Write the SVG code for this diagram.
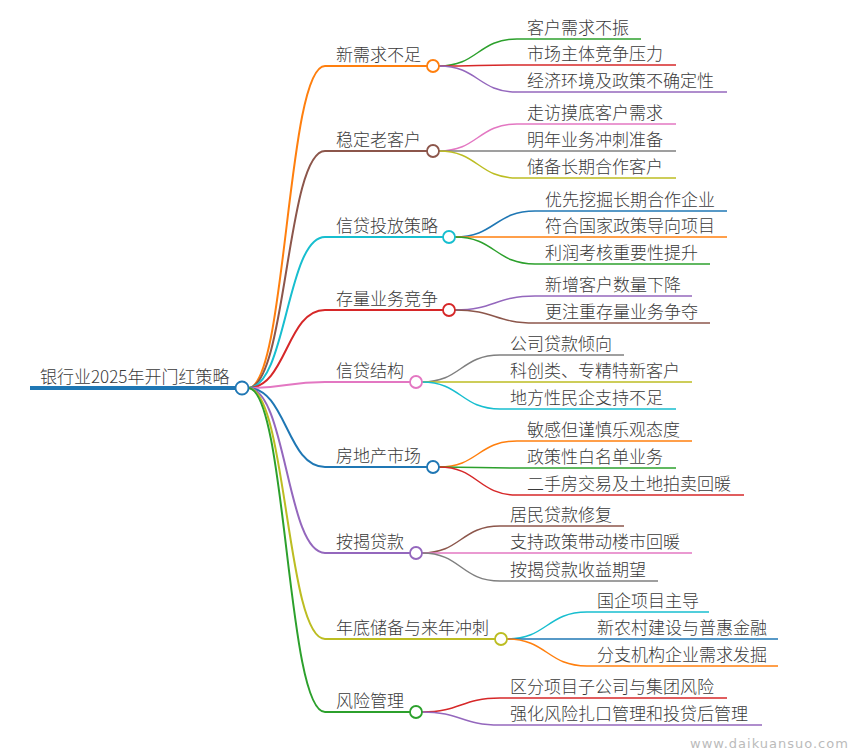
<svg xmlns="http://www.w3.org/2000/svg" width="849" height="751" viewBox="0 0 849 751">
<style>
text{font-family:"Noto Sans CJK SC","Noto Sans",sans-serif;font-size:17px;font-weight:300;fill:#3a3a3a}
.wm{font-family:"DejaVu Sans","Liberation Sans",sans-serif;font-size:13px;font-weight:normal;fill:#bbb;letter-spacing:1px}
path{fill:none}
.b{stroke-width:2}
.l{stroke-width:1.5}
circle{fill:#fff;stroke-width:1.8}
.c0{stroke:#1f77b4}.c1{stroke:#ff7f0e}.c2{stroke:#2ca02c}.c3{stroke:#d62728}.c4{stroke:#9467bd}
.c5{stroke:#8c564b}.c6{stroke:#e377c2}.c7{stroke:#7f7f7f}.c8{stroke:#bcbd22}.c9{stroke:#17becf}
</style>
<rect width="849" height="751" fill="#fff"/>
<g id="connectors">
<path class="b c1" d="M248,388 C286.5,388 286.5,66 325,66"/>
<path class="b c5" d="M248,388 C286.5,388 286.5,151 325,151"/>
<path class="b c9" d="M248,388 C286.5,388 286.5,237 325,237"/>
<path class="b c3" d="M248,388 C286.5,388 286.5,310 325,310"/>
<path class="b c6" d="M248,388 C286.5,388 286.5,382 325,382"/>
<path class="b c0" d="M248,388 C286.5,388 286.5,467 325,467"/>
<path class="b c4" d="M248,388 C286.5,388 286.5,553 325,553"/>
<path class="b c8" d="M248,388 C286.5,388 286.5,639 325,639"/>
<path class="b c2" d="M248,388 C286.5,388 286.5,712 325,712"/>
<path class="l c2" d="M439,66 C478,66 478,39 517,39"/>
<path class="l c3" d="M439,66 C478,66 478,65 517,65"/>
<path class="l c4" d="M439,66 C478,66 478,92 517,92"/>
<path class="l c6" d="M439,151 C478,151 478,124 517,124"/>
<path class="l c7" d="M439,151 C478,151 478,151 517,151"/>
<path class="l c8" d="M439,151 C478,151 478,178 517,178"/>
<path class="l c0" d="M455,237 C495,237 495,211 535,211"/>
<path class="l c1" d="M455,237 C495,237 495,237 535,237"/>
<path class="l c2" d="M455,237 C495,237 495,264 535,264"/>
<path class="l c4" d="M455,310 C495,310 495,296 535,296"/>
<path class="l c5" d="M455,310 C495,310 495,323 535,323"/>
<path class="l c7" d="M422,382 C461,382 461,355 500,355"/>
<path class="l c8" d="M422,382 C461,382 461,382 500,382"/>
<path class="l c9" d="M422,382 C461,382 461,409 500,409"/>
<path class="l c1" d="M439,467 C478,467 478,441 517,441"/>
<path class="l c2" d="M439,467 C478,467 478,468 517,468"/>
<path class="l c3" d="M439,467 C478,467 478,495 517,495"/>
<path class="l c5" d="M422,553 C461,553 461,526 500,526"/>
<path class="l c6" d="M422,553 C461,553 461,553 500,553"/>
<path class="l c7" d="M422,553 C461,553 461,581 500,581"/>
<path class="l c9" d="M507,639 C547,639 547,612 587,612"/>
<path class="l c0" d="M507,639 C547,639 547,639 587,639"/>
<path class="l c1" d="M507,639 C547,639 547,666 587,666"/>
<path class="l c3" d="M422,712 C461,712 461,698 500,698"/>
<path class="l c4" d="M422,712 C461,712 461,725 500,725"/>
</g>
<g id="root">
<path class="c0" stroke-width="4" d="M30,388 H242"/>
<text x="40" y="383">银行业2025年开门红策略</text>
<circle class="c0" cx="242" cy="388" r="6.5"/>
</g>
<g id="n1">
<path class="b c1" d="M325,66 H433"/><text x="336" y="61">新需求不足</text><circle class="c1" cx="433" cy="66" r="6"/>
<path class="l c2" d="M517,39 H641"/><text x="527" y="34">客户需求不振</text>
<path class="l c3" d="M517,65 H676"/><text x="527" y="60">市场主体竞争压力</text>
<path class="l c4" d="M517,92 H727"/><text x="527" y="87">经济环境及政策不确定性</text>
</g>
<g id="n2">
<path class="b c5" d="M325,151 H433"/><text x="336" y="146">稳定老客户</text><circle class="c5" cx="433" cy="151" r="6"/>
<path class="l c6" d="M517,124 H676"/><text x="527" y="119">走访摸底客户需求</text>
<path class="l c7" d="M517,151 H676"/><text x="527" y="146">明年业务冲刺准备</text>
<path class="l c8" d="M517,178 H676"/><text x="527" y="173">储备长期合作客户</text>
</g>
<g id="n3">
<path class="b c9" d="M325,237 H449"/><text x="336" y="232">信贷投放策略</text><circle class="c9" cx="449" cy="237" r="6"/>
<path class="l c0" d="M535,211 H727"/><text x="545" y="206">优先挖掘长期合作企业</text>
<path class="l c1" d="M535,237 H727"/><text x="545" y="232">符合国家政策导向项目</text>
<path class="l c2" d="M535,264 H710"/><text x="545" y="259">利润考核重要性提升</text>
</g>
<g id="n4">
<path class="b c3" d="M325,310 H449"/><text x="336" y="305">存量业务竞争</text><circle class="c3" cx="449" cy="310" r="6"/>
<path class="l c4" d="M535,296 H692"/><text x="545" y="291">新增客户数量下降</text>
<path class="l c5" d="M535,323 H710"/><text x="545" y="318">更注重存量业务争夺</text>
</g>
<g id="n5">
<path class="b c6" d="M325,382 H416"/><text x="336" y="377">信贷结构</text><circle class="c6" cx="416" cy="382" r="6"/>
<path class="l c7" d="M500,355 H624"/><text x="510" y="350">公司贷款倾向</text>
<path class="l c8" d="M500,382 H692"/><text x="510" y="377">科创类、专精特新客户</text>
<path class="l c9" d="M500,409 H676"/><text x="510" y="404">地方性民企支持不足</text>
</g>
<g id="n6">
<path class="b c0" d="M325,467 H433"/><text x="336" y="462">房地产市场</text><circle class="c0" cx="433" cy="467" r="6"/>
<path class="l c1" d="M517,441 H692"/><text x="527" y="436">敏感但谨慎乐观态度</text>
<path class="l c2" d="M517,468 H676"/><text x="527" y="463">政策性白名单业务</text>
<path class="l c3" d="M517,495 H744"/><text x="527" y="490">二手房交易及土地拍卖回暖</text>
</g>
<g id="n7">
<path class="b c4" d="M325,553 H416"/><text x="336" y="548">按揭贷款</text><circle class="c4" cx="416" cy="553" r="6"/>
<path class="l c5" d="M500,526 H624"/><text x="510" y="521">居民贷款修复</text>
<path class="l c6" d="M500,553 H692"/><text x="510" y="548">支持政策带动楼市回暖</text>
<path class="l c7" d="M500,581 H658"/><text x="510" y="576">按揭贷款收益期望</text>
</g>
<g id="n8">
<path class="b c8" d="M325,639 H501"/><text x="336" y="634">年底储备与来年冲刺</text><circle class="c8" cx="501" cy="639" r="6"/>
<path class="l c9" d="M587,612 H709"/><text x="597" y="607">国企项目主导</text>
<path class="l c0" d="M587,639 H778"/><text x="597" y="634">新农村建设与普惠金融</text>
<path class="l c1" d="M587,666 H778"/><text x="597" y="661">分支机构企业需求发掘</text>
</g>
<g id="n9">
<path class="b c2" d="M325,712 H416"/><text x="336" y="707">风险管理</text><circle class="c2" cx="416" cy="712" r="6"/>
<path class="l c3" d="M500,698 H727"/><text x="510" y="693">区分项目子公司与集团风险</text>
<path class="l c4" d="M500,725 H762"/><text x="510" y="720">强化风险扎口管理和投贷后管理</text>
</g>
<text class="wm" x="690" y="748">www.daikuansuo.com</text>
</svg>
